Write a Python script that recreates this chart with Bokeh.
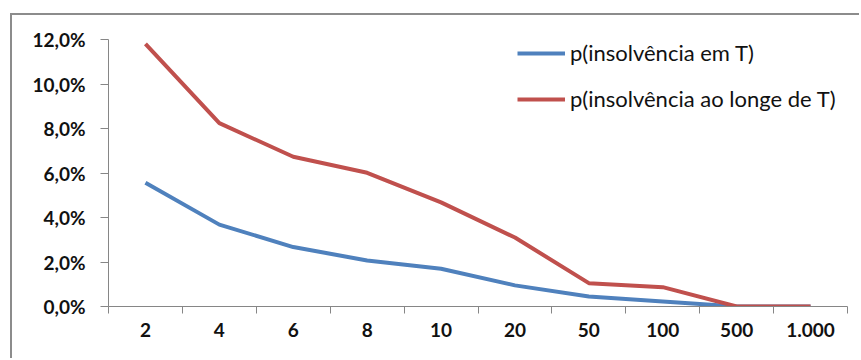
import numpy as np
from bokeh.plotting import figure
from bokeh.models import (Range1d, LinearAxis, FixedTicker, Legend, LegendItem,
                          ColumnDataSource)
from bokeh.embed import file_html
from bokeh.resources import INLINE

# horizon T (number of periods) and insolvency probabilities
horizons = ["2", "4", "6", "8", "10", "20", "50", "100", "500", "1.000"]
p_em_T = [0.0556, 0.0368, 0.0267, 0.0207, 0.0170, 0.0095, 0.0045, 0.0023, 0.0, 0.0]
p_ao_longe_T = [0.118, 0.0824, 0.0673, 0.0601, 0.0468, 0.0310, 0.0105, 0.0087, 0.0, 0.0]

y_ticks = [0.0, 0.02, 0.04, 0.06, 0.08, 0.10, 0.12]
y_tick_labels = ["0,0%", "2,0%", "4,0%", "6,0%", "8,0%", "10,0%", "12,0%"]

series_names = ["p(insolvência em T)", "p(insolvência ao longe de T)"]
series_colors = ["#4F81BD", "#C0504D"]

FONT = "Lato"
AXIS_GREY = "#868686"
TEXT = "#111111"

# evenly spaced category slots: labels at slot centres, ticks at slot edges
n = len(horizons)
centres = (np.arange(n) + 0.5).tolist()
edges = np.arange(n + 1).astype(float).tolist()

src = ColumnDataSource(dict(x=centres, a=p_em_T, b=p_ao_longe_T))

p = figure(width=849, height=345, x_range=Range1d(0, n), y_range=Range1d(0, 0.12),
           output_backend="svg", toolbar_location=None,
           x_axis_type=None, y_axis_type=None,
           min_border_left=96, min_border_right=14, min_border_top=24,
           min_border_bottom=54)
p.margin = (13, 0, 0, 10)
p.styles = {"border-top": "2px solid #8c8c8c", "border-left": "2px solid #8c8c8c"}
p.outline_line_color = None
p.background_fill_color = "white"
p.border_fill_color = "white"

# y axis with percentage labels in pt-BR format
yax = LinearAxis(ticker=FixedTicker(ticks=y_ticks, minor_ticks=[]),
                 major_label_overrides={t: s for t, s in zip(y_ticks, y_tick_labels)})
yax.axis_line_color = AXIS_GREY
yax.major_tick_line_color = AXIS_GREY
yax.major_tick_in = 0
yax.major_tick_out = 8
yax.major_label_standoff = 15
yax.major_label_text_font = FONT
yax.major_label_text_font_style = "bold"
yax.major_label_text_font_size = "19px"
yax.major_label_text_color = TEXT
p.add_layout(yax, "left")

# x axis: category names centred in their slots, tick marks between them
xax = LinearAxis(ticker=FixedTicker(ticks=centres, minor_ticks=edges),
                 major_label_overrides={c: h for c, h in zip(centres, horizons)})
xax.axis_line_color = AXIS_GREY
xax.major_tick_line_color = None
xax.major_tick_in = 0
xax.major_tick_out = 7
xax.minor_tick_line_color = AXIS_GREY
xax.minor_tick_in = 0
xax.minor_tick_out = 7
xax.major_label_standoff = 9
xax.major_label_text_font = FONT
xax.major_label_text_font_style = "bold"
xax.major_label_text_font_size = "19px"
xax.major_label_text_color = TEXT
p.add_layout(xax, "below")

r_a = p.line("x", "a", source=src, color=series_colors[0], line_width=4)
r_b = p.line("x", "b", source=src, color=series_colors[1], line_width=4)

legend = Legend(items=[LegendItem(label=series_names[0], renderers=[r_a]),
                       LegendItem(label=series_names[1], renderers=[r_b])],
                location=(409, 194), orientation="vertical")
legend.border_line_color = None
legend.background_fill_alpha = 0
legend.padding = 0
legend.margin = 0
legend.spacing = 19
legend.glyph_width = 48
legend.glyph_height = 26
legend.label_height = 26
legend.label_standoff = 5
legend.label_text_font = FONT
legend.label_text_font_size = "22px"
legend.label_text_color = TEXT
p.add_layout(legend, "center")

open("out.html", "w").write(file_html(p, INLINE))
